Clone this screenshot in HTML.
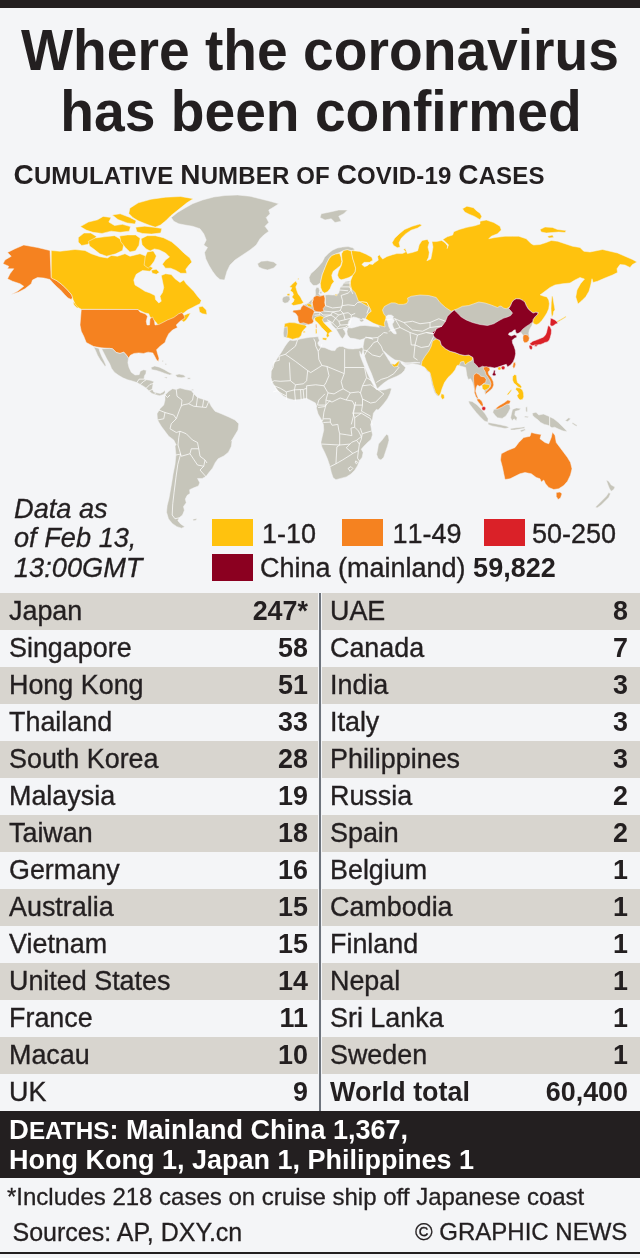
<!DOCTYPE html>
<html><head><meta charset="utf-8">
<style>
html,body{margin:0;padding:0;}
body{width:640px;height:1258px;background:#f4f5f7;position:relative;overflow:hidden;font-family:"Liberation Sans",Arial,Helvetica,sans-serif;color:#231f20;}
.abs{position:absolute;white-space:nowrap;}
#topbar{left:0;top:0;width:640px;height:7.5px;background:#231f20;}
.title{left:0;width:640px;text-align:center;font-weight:bold;font-size:55.2px;line-height:56px;transform:scaleY(1.05);transform-origin:0 46px;}
#sub{left:13.5px;top:159px;letter-spacing:0.15px;font-weight:bold;font-size:24px;line-height:32px;}
#sub b{font-size:28px;}
#map{left:0;top:185px;width:640px;height:350px;}
.date{left:14px;-webkit-text-stroke:0.3px #231f20;font-style:italic;font-size:27.2px;line-height:30px;}
.sw{width:41px;height:27px;}
.lg{font-size:27px;line-height:30px;font-kerning:none;-webkit-text-stroke:0.35px #231f20;}
.lg b{-webkit-text-stroke:0;}
.row{left:0;width:640px;height:37px;}
.row.g{background:linear-gradient(90deg,#d8d5cf 0,#d8d5cf 318.5px,transparent 318.5px,transparent 322.5px,#d8d5cf 322.5px);}
.c{position:absolute;top:0;-webkit-text-stroke:0.35px #231f20;font-size:26.9px;line-height:37px;white-space:nowrap;}
.n{font-weight:bold;text-align:right;-webkit-text-stroke:0;}
.c b{-webkit-text-stroke:0;}
#vdiv{left:319px;top:592.5px;width:2px;height:518.5px;background:#6e747d;}
#deaths{left:0;top:1111px;width:640px;height:66.5px;background:#231f20;color:#fff;font-weight:bold;}
#deaths div{position:absolute;left:9px;font-size:27px;line-height:30px;white-space:nowrap;}
#botline{left:0;top:1252px;width:640px;height:2px;background:#231f20;}
.ft{font-size:24px;line-height:28px;-webkit-text-stroke:0.3px #231f20;}
</style></head><body>
<div id="topbar" class="abs"></div>
<div class="abs title" style="top:23px">Where the coronavirus</div>
<div class="abs title" style="top:84px;left:1px">has been confirmed</div>
<div id="sub" class="abs"><b>C</b>UMULATIVE <b>N</b>UMBER OF <b>C</b>OVID-19 <b>C</b>ASES</div>
<svg id="map" class="abs" viewBox="0 185 640 350">
<g stroke="#f4f5f7" stroke-width="0.5" stroke-linejoin="round">
<path fill="#f58220" d="M50,250.5 37.5,247.5 23.75,245 15,248.75 7.5,252.5 11.25,256.25 5,260 3,263.75 8.75,266.25 7.5,268.75 13.75,268.75 10,273.75 7.5,278.75 12.5,281.25 20,283.75 23.75,286.25 17.5,291.25 11.25,294.5 18.75,292 25,288.75 31.25,283.75 32.5,280 37.5,277.5 43.75,278 50,279.5 53,283 57,287 60.5,290 64.5,294.5 68,298 71.25,299.5 72.5,297.5 71.75,295 67.5,290 62.5,285 57,280.75 51.25,277.5Z"/>
<path fill="#ffc20e" d="M73,302 75.5,303 79,307.5 77,308 74,305Z"/>
<path fill="#ffc20e" d="M51.25,250.5 60,251.25 75,249.5 85,250.5 91.25,253.75 100,256.75 107.5,258 111.25,255.5 117.5,256.25 125,253.75 130,256.25 140,253.75 146.25,256.25 150,260 147.5,265 153,268 150,271.25 142.5,270.5 136.25,274.25 133.75,280 135,285 140,288 145,291.25 150,293 155,295.5 155.5,299.5 158.75,303 161.25,301.25 160,296.25 162.5,292.5 163.75,287.5 162.5,281.25 161.25,275.5 165.5,273.75 171.25,274.5 175,278.75 180,282.5 183.75,280 186.25,283.75 190,287.5 193.75,291.25 197.5,296.25 201.25,300.5 200,303.75 196.25,305.5 192.5,307.5 187.5,310 183.75,313 180,315 183.75,315.5 187.5,313.75 190.5,313 188.75,316.25 186.25,320 183.75,322 181.25,320 179.5,317 175,319.5 171.25,322 167.5,323.75 162.5,325 158.75,326.25 156.25,322.5 153.75,320 150,317 148.75,313.75 145,313 141.25,311.25 137.5,309.5 81.25,309.25 78,307.5 75,303.75 73,299.5 71.75,295 67.5,290 62.5,285 57,280.75 51.25,278Z"/>
<path fill="#ffc20e" d="M198.75,307 202.5,306.25 206.25,310 207,314.5 202.5,313.75 199.5,312Z"/>
<path fill="#c6c5ba" d="M171.25,217.5 177.5,212.5 185,208 192.5,203.75 202.5,200 213.75,197 225,195.5 237.5,195 250,196.25 260,198.75 270,201.25 278.75,203.75 273.75,207 268.75,210 270,213.75 266.25,217.5 268.75,222.5 265,226.25 268.75,231.25 263.75,235 260,238.75 256.25,245 250,250 242.5,255 235,260 230,265 227,271.25 224.5,280 220,279.5 216.25,276.25 212.5,271.25 208.75,265 205.75,258.75 204.5,252.5 207.5,247.5 203.75,245 206.25,240 203.75,233.75 200,228.75 192.5,226.25 185,225 178.75,223.75 173.75,221.25Z"/>
<path fill="#c6c5ba" d="M257.5,263.75 261.25,261.25 267.5,260.75 273.75,262 277,264.5 273.75,268 267.5,270 262.5,268.75 258.75,267Z"/>
<path fill="#f58220" d="M81.25,309.5 138,309.5 140,312 145.5,314 147.5,316.25 146.25,321.25 147,325 149.5,325 150,318.75 152.5,317 154.5,321.25 155,325 158.75,324.5 163.75,322 167.5,320 173.75,317.5 178.75,313.75 182,312.5 183.75,315 185,318 180,321.25 176.25,325 177.5,327.5 172.5,330 168.75,333.75 166.25,338.75 165,342.5 160.32,345.94 156.57,349.69 157.5,353.44 159,358.13 158.44,361.5 156.57,360 154.69,356.25 152.82,352.88 148.13,352.13 143.44,353.44 138.75,352.88 134.07,353.44 130.32,355.31 128.44,358.13 126.56,355.31 123.75,352.13 120,353.44 116.25,352.5 112.5,348.75 109.69,348.38 101.25,347.81 93.75,346.5 86.25,342.5 83.75,336.25 81.25,331.25 80,325Z"/>
<path fill="#ffc20e" d="M129.85,208.14 138.29,202.86 150.97,199.27 165.76,197.16 180.55,196.52 193.23,198.63 186.88,202.86 181.6,207.09 176.33,211.31 171.04,215.53 165.76,220.82 160.48,225.04 155.19,227.15 148.86,225.04 143.58,222.93 138.29,220.82 133.02,217.65 128.79,213.42Z"/>
<path fill="#ffc20e" d="M135.66,227.27 144.76,226.13 153.86,227.27 161.82,228.4 160.69,232.96 151.58,234.09 142.49,233.41 136.8,231.82Z"/>
<path fill="#ffc20e" d="M80.4,226.62 88.36,222.07 97.47,219.8 103.15,216.38 111.12,217.52 108.83,222.07 114.52,225.49 122.49,224.34 130.45,226.62 129.32,231.17 120.21,232.31 111.12,231.17 102.01,233.45 92.92,232.31 86.09,230.03Z"/>
<path fill="#ffc20e" d="M112.26,214.95 120.22,213.82 129.33,217.23 136.15,220.64 135.02,224.06 127.05,222.92 117.95,219.5Z"/>
<path fill="#ffc20e" d="M78.29,237.57 83.98,233.01 90.8,233.01 96.49,236.43 93.07,240.98 87.39,244.39 81.7,245.53 78.29,242.12Z"/>
<path fill="#ffc20e" d="M88.4,241.36 95.23,237.95 104.33,236.82 114.56,235.67 120.25,239.09 123.67,244.77 122.53,250.46 115.71,253.87 106.6,256.15 99.78,253.87 94.09,249.33 89.54,245.91Z"/>
<path fill="#ffc20e" d="M119.63,236.04 127.59,234.9 135.56,234.9 140.1,238.32 138.97,245.14 135.56,250.83 129.87,251.97 125.32,247.42 120.77,241.73Z"/>
<path fill="#ffc20e" d="M141.09,238.75 147.19,235.7 155.31,235.7 163.44,237.74 171.56,241.8 177.66,246.88 183.75,252.97 189.85,258.05 191.88,262.11 188.83,265.16 185.78,269.22 186.8,273.28 180.7,273.28 175.63,270.24 170.55,268.2 165.47,268.2 162.42,264.14 165.47,260.08 169.53,257.03 165.47,252.97 159.38,249.92 154.3,248.91 150.24,250.94 146.17,248.91 142.11,244.84Z"/>
<path fill="#ffc20e" d="M147.19,251.95 153.28,250.94 156.33,256.02 154.3,261.09 151.25,265.16 148.2,268.2 144.14,265.16 145.16,257.03Z"/>
<path fill="#ffc20e" d="M151.25,270.24 156.33,269.22 159.38,272.27 156.33,274.3 152.27,273.28Z"/>
<path fill="#c6c5ba" d="M93.75,346.88 95.63,350.63 97.5,355.31 100.31,360 103.13,363.75 105,366.56 105.94,365.25 104.06,360.94 101.63,356.25 99.75,351.56 99,348.38Z"/>
<path fill="#c6c5ba" d="M101.63,348.75 104.06,353.44 106.88,359.06 109.69,363.75 111.56,368.44 114.38,372.19 118.13,375 122.81,377.82 127.5,379.69 132.19,381 136.88,382.5 140.25,384.38 143.44,386.25 146.25,388.13 149.07,390.94 151.88,393.38 155.63,394.69 159.38,395.63 163.13,394.69 165,392.82 165,390 163.13,391.88 160.32,393.38 156.57,392.82 153.75,391.88 152.25,389.07 152.82,385.32 153.75,381.57 150,380.25 146.25,379.69 144,379.13 144.38,375.94 145.88,373.5 146.25,370.32 143.44,369.75 140.25,371.25 139.13,374.63 135,375 131.25,372.19 129,367.5 127.88,362.81 128.44,358.13 126.56,355.31 123.75,352.13 120,353.44 116.25,352.5 112.5,348.75 109.69,348.38Z"/>
<path fill="#c6c5ba" d="M150.94,367.5 154.69,366 159.38,367.13 164.07,369.38 168.75,372.19 172.51,374.07 169.69,375 165,373.5 160.32,371.63 155.63,370.32 151.88,369.75Z"/>
<path fill="#c6c5ba" d="M175.32,375 179.07,374.07 183.76,375 185.63,376.88 181.88,377.82 177.19,377.25Z"/>
<path fill="#c6c5ba" d="M164.07,376.88 167.25,376.88 166.5,378.38Z"/>
<path fill="#c6c5ba" d="M187.51,377.82 190.32,377.82 190.32,379.13 187.51,379.13Z"/>
<path fill="#c6c5ba" d="M162,360.56 163.13,360.56 163.13,361.69 162,361.69Z"/>
<path fill="#c6c5ba" d="M165,363.38 166.13,363.38 166.5,364.88 165.38,364.88Z"/>
<path fill="#c6c5ba" d="M191.82,389.25 193.32,389.25 193.32,390.38 191.82,390.38Z"/>
<path fill="#c6c5ba" d="M165,395 168.75,391.25 172.5,388.75 176.25,389.5 180,388 185.5,389.5 191.25,390.5 193.75,393.75 197.5,397.5 203.75,399.5 208.75,401.25 211.25,406.25 215,411.25 221.25,413.75 228.75,417 235,420 238.75,423.75 238,430 235,435 231.25,441.25 232.19,440 231.26,446.56 228.44,452.19 223.76,455.94 218.13,458.75 215.32,462.5 212.51,468.13 208.75,472.81 205.94,476.56 202.19,478.44 197.5,478.44 199.75,482.75 198.44,485.94 193.75,487.82 189.63,489.69 190,493.44 187.19,495.32 185.32,499.07 186.25,502.82 183.44,506.57 184.38,510.32 182.5,515 179.13,517.82 177.82,520.63 180.63,524.01 184.75,526.63 181.57,528.13 176.88,526.63 172.19,523.44 168.44,518.75 166.56,512.19 167.13,505.63 169,498.13 170.32,490.63 171.63,483.13 173.13,473.75 175,464.38 175.94,455 175,445.63 176.25,445 173.75,440 168.75,436.25 165,431.25 161.25,426.25 157.5,420 157,413.75 160,408.75 163.75,405 165,400Z"/>
<path fill="#c6c5ba" d="M192.82,519.13 197.13,518.38 196,520.26 193.38,520.63Z"/>
<path fill="#c6c5ba" d="M290,340 293.12,340.62 296.88,340 300,339 305,338.12 310,337.25 315,336.88 318.12,336.5 318.5,338.12 319.38,340.62 317.75,343.12 318.75,345.62 321.25,347.25 325,347.75 328.75,349.38 331.88,350.62 335,350.62 336.5,348.12 339.38,346.5 342.75,346.5 345,347.75 348.75,348.75 353.12,349 355,348.75 358.75,348.5 361.88,347.5 363.25,348.75 362.5,351.88 361.5,355 360.38,353.12 359.75,351.25 360,355 361.88,360 364.38,366.25 366.88,371.88 369.38,377.5 371.88,382.5 374.38,386.88 376.25,389.38 380,390.25 385,389.75 390,388.12 391.5,388.75 390,393.75 387.5,398.75 383.75,403.75 380,408.12 378.12,410 376.26,409.38 373.44,413.13 372.51,418.75 370.63,424.38 371.57,430 372.51,434.69 371.01,439.38 367.82,442.19 364.07,445.94 361.25,449.13 363.13,452.5 362.19,457.19 359.38,460.94 357.5,465.63 354.69,470.32 350.94,474.07 346.25,476.88 340.63,478.38 335.94,479.69 333.13,477.82 331.25,472.19 329.75,465.63 327.5,459.07 324.69,452.5 321.88,446.88 320.94,442.19 322.25,436.56 323.75,430 323.38,424.38 320.94,418.75 318.13,414.06 316.25,407.5 317,407 315.5,403 311.25,400.75 306.25,398.25 300,399.5 293.75,400 288.75,398.75 283.75,396.25 279.5,392.5 275.5,387.5 272.5,382.5 271,377.5 271.25,371.25 273,365 277,358.75 281.25,352.5 285,346.25 287.5,342.75Z"/>
<path fill="#c6c5ba" d="M386.57,434.13 388.44,435.63 389.01,440.32 387.51,445.94 385.63,451.57 383.76,457.19 380.94,460 378.13,458.5 376.63,454.38 377.76,448.75 378.51,444.07 381.88,440.32 384.69,436.56Z"/>
<path fill="#c6c5ba" d="M283.75,337.66 283.28,332.97 284.06,327.5 284.84,323.59 289.53,322.5 295,322.81 299.69,324.06 298.12,320.47 297.81,316.56 295.78,313.44 292.66,311.88 293.44,310.31 297.34,310 300.47,309.53 301.25,307.19 303.59,304.84 306.72,303.75 309.06,302.19 310.94,300.16 313.44,298.59 314.53,296.56 315.62,294.69 315.31,290 316.56,287.34 318.75,287.66 319.69,290.78 318.75,293.91 320.78,295.47 324.69,295 328.59,294.69 332.5,295 336.41,294.69 338.75,293.12 339.53,290 340.31,286.88 342.66,285.31 343.44,282.97 345.78,281.41 349.69,280.94 352.03,279.84 357.5,279.84 370,286.88 371.25,311.25 368.12,313.75 366.25,316.88 365.62,318.75 362.75,318.5 361.25,319.75 359.38,318.75 356.25,317.5 353.12,316.88 350.62,318.75 348.75,321.25 348.12,323.75 348.75,326.5 347.5,327.5 345.62,328.12 343.12,329 344.75,331.25 345.62,333.75 344.38,336.25 342.5,338.75 340.62,336.88 338.75,333.75 336.88,330.62 335,328.12 332.5,325.62 330.62,322.5 330,321.25 323.91,322.81 320,317.34 314.53,318.12 312.19,323.59 308.28,324.38 305.16,325.16 306.72,326.72 304.38,329.06 302.03,332.19 301.25,335.31 298.91,337.66 295.78,339.22 297.5,338 292.5,339.25 288.75,338 285,337.5 283,336.25Z"/>
<path fill="#c6c5ba" d="M347.5,327.75 351.88,328 355.62,327 360,325.75 365,325.38 370,326.12 375,326.62 379.38,327.25 378.12,325 373.12,323.12 368.75,320.62 373.75,317.5 377.5,305 392.5,295 420,280 520,285 545,300 532.75,321.88 531.88,325.62 530.62,327.5 529.38,330 528.75,333.12 529.38,338.12 528.75,340.62 526.88,342.5 524.38,342.75 523.12,340.62 522.88,338.12 523.12,335.62 521.88,333.75 520.62,331.88 520,328.75 506.25,327.5 506.25,345 500,367.5 489.38,367.75 490,370 488.12,371.88 488.75,374.38 491.25,377.5 493.12,381.25 493.75,385 492.5,388.12 490,390.62 486.88,393.12 485,394.38 484.38,390.25 482.5,388.75 481.88,385.62 479.38,386.25 477.5,385 476.25,387.5 475.62,391.25 476.88,395 478.12,398.12 479.38,399 481.88,401.25 483.12,404.38 482.75,406.88 480.62,405 478.75,402.5 477.25,400.62 475.62,396.25 474.38,392.5 475,390 473.75,387.5 472.5,382.5 470.62,378.75 468.12,379.38 466.88,375.62 466.25,371.25 465.62,367.5 458.75,365.5 457,365.5 454.5,370 451.25,373.75 447.5,377.5 443.75,382.5 441.25,388.75 439.5,393.75 437.5,396.25 434.5,392.5 432,385 430.5,377.5 429.5,372.5 427,371.25 425,367.5 421.25,365.5 417.5,364.5 412.5,363.75 407.5,364.5 402.5,363.75 420,362.75 415,362.25 410,362.75 405,362.75 401.25,361.25 398.75,360.62 395,360 391.25,357.5 387.5,354.38 383.75,351 383.12,351.5 384.38,353.12 386.88,356.88 389,360.62 390,361.5 390.62,363.5 391.88,363.75 395,364.38 397.5,362.75 398.5,361.5 400,360.62 401.5,363.75 403.5,365.62 405.62,367.5 404.38,370.62 401.25,373.75 396.88,376.25 392.5,378.12 388.12,380 383.75,383.12 380,386.25 377.5,388.75 376.5,386.88 375,383.12 373.12,378.12 371.25,373.12 368.75,367.5 366.25,361.25 364.38,355.62 363.25,350 363.12,346.25 363.75,342.5 364.38,339.38 365.62,336.88 373.12,339.38 371.25,337.75 367.5,337.5 363.75,338.75 360,340 355,338.75 350,338.12 347.5,335 346.88,331.25 347.5,329Z"/>
<path fill="#c6c5ba" d="M312.19,284.53 309.84,281.41 309.06,277.5 310.94,273.59 314.53,270.47 318.44,266.56 322.34,261.88 324.69,257.19 328.59,253.28 332.5,250.16 337.19,248.12 342.66,247.03 348.12,246.56 352.81,247.81 355.16,249.69 351.25,250.62 347.34,249.69 343.44,250.62 339.53,252.5 335.62,254.06 331.72,255.62 329.06,258.75 327.03,262.66 325.47,266.56 323.91,270.47 322.34,274.38 321.25,279.06 320.31,282.97 316.88,285.31 313.75,285.62Z"/>
<path fill="#ffc20e" d="M320.31,283.44 321.25,279.06 322.34,274.38 323.91,270.47 325.47,266.56 327.03,262.66 329.06,258.75 331.72,255.62 335.62,254.06 339.53,253.28 341.09,257.19 341.88,261.56 340.62,265.47 336.88,268.44 333.28,271.25 331.72,275.16 332.5,279.06 334.06,281.41 331.72,284.53 330.16,288.44 327.81,291.56 324.69,293.12 322.34,291.56 320.78,287.66Z"/>
<path fill="#ffc20e" d="M343.44,250.62 347.34,249.69 351.25,250.94 352.03,254.84 352.81,258.75 354.38,263.44 355.62,268.12 355.16,272.03 352.81,275.16 348.91,277.5 344.22,279.06 341.09,279.84 338.75,278.28 337.5,275.16 338.44,271.25 340,268.12 341.25,265.78 342.34,261.56 341.72,257.19 341.56,253.75Z"/>
<path fill="#ffc20e" d="M295.78,280.94 293.44,282.97 291.09,285.31 289.53,286.88 291.88,287.66 290.31,290.78 292.66,292.34 293.44,294.69 291.88,297.03 294.22,299.38 293.44,301.72 291.09,304.06 293.44,305.62 297.34,304.84 301.25,304.06 303.59,302.5 302.03,300.16 300.47,297.03 298.12,293.91 296.88,290.78 295.78,286.88 297.34,283.75Z"/>
<path fill="#ffc20e" d="M286.88,293.91 289.53,293.44 290,295.47 287.5,295.94Z"/>
<path fill="#c6c5ba" d="M283.28,297.03 286.41,295.94 289.53,296.25 290,299.38 287.97,302.5 284.84,303.28 282.5,301.72 282.19,299.06Z"/>
<path fill="#ffc20e" d="M297.81,278.44 298.91,277.97 298.75,279.38 297.81,279.69Z"/>
<path fill="#c6c5ba" d="M319.69,291.88 321.56,291.56 321.88,293.44 320,293.75Z"/>
<path fill="#f58220" d="M313.75,297.03 316.88,295.47 320,296.25 323.91,295 325.47,298.59 324.69,302.5 325.47,305.62 323.12,308.75 323.91,311.09 320,312.19 316.09,311.56 313.75,310.31 312.97,306.41 311.88,302.5 312.5,299.38Z"/>
<path fill="#f58220" d="M303.59,304.84 306.72,306.41 309.84,307.97 312.97,309.53 314.53,311.88 312.97,315 312.19,318.12 313.75,321.25 312.19,323.59 308.28,324.38 303.59,322.81 299.69,323.59 298.12,320.47 297.81,316.56 295.78,313.44 292.66,311.88 293.44,310.31 297.34,310 300.47,309.53 301.25,307.19Z"/>
<path fill="#f58220" d="M315.62,324.38 316.56,324.06 316.88,327.81 315.94,328.28Z"/>
<path fill="#ffc20e" d="M315.47,329.06 316.72,328.75 317.03,333.44 315.78,333.75Z"/>
<path fill="#ffc20e" d="M306.25,304.06 309.84,303.75 312.19,305.62 311.41,307.19 308.28,306.41Z"/>
<path fill="#ffc20e" d="M284.84,323.59 289.53,322.5 295,322.81 299.69,324.06 305.16,325.16 306.72,326.72 304.38,329.06 302.03,332.19 301.25,335.31 298.91,337.66 295.78,339.22 297.5,338 292.5,339.25 288.75,338 285.5,337.5 286.88,336.88 287.5,332.19 287.19,326.72 284.06,327.5Z"/>
<path fill="#ffc20e" d="M314.53,318.12 316.88,316.56 320.78,315.78 323.91,317.34 322.34,319.69 323.91,322.81 327.03,325.94 330.16,329.06 332.5,331.41 330.16,332.19 328.59,333.75 329.38,336.09 327.03,337.66 326.25,335.31 327.03,332.97 324.69,330.62 321.56,327.5 319.22,324.38 316.88,322.03 315,320.47Z"/>
<path fill="#ffc20e" d="M322.34,337.66 327.03,338.12 326.25,340.31 322.81,339.69Z"/>
<path fill="#ffc20e" d="M303,331.5 305,331 305.25,332.5 303.25,332.75Z"/>
<path fill="#ffc20e" d="M355.16,249.69 353.56,250.75 359.69,251.41 366.25,254.26 371.72,257.32 372.82,260.16 369.53,262.35 364.06,262.35 361.88,264.54 364.5,266.73 367.35,265.63 369.53,263.88 372.82,264.54 375,262.35 378.28,260.16 377.63,256.44 379.38,254.69 381.13,257.32 382.66,259.07 387.04,256.44 392.5,254.69 396.88,253.6 402.35,253.6 405.63,252.07 403.44,249.22 405.19,248.57 407.38,253.6 412.19,252.5 417.66,250.75 419.19,244.85 422.04,240.47 427.51,239.38 429.26,242.66 427.95,247.04 429.26,252.5 428.6,257.32 426.85,260.82 430.79,259.07 431.88,253.6 432.98,247.04 431.88,241.57 436.26,241.57 441.73,240.47 445.01,242.66 447.64,245.94 447.2,248.57 448.51,244.85 442.82,239.38 447.2,236.75 452.67,235 453.76,231.72 459.23,229.53 466.89,227.35 474.54,225.81 480.01,224.06 480,221.25 486.25,220 493.75,222.5 500,226.25 501.25,230 497.5,233.75 491.25,236.25 488.75,238.75 495,237.5 505,236.25 512.5,236.25 518.75,236.25 526.25,238.75 531.25,243.75 533.75,245 540,244.5 546.25,242.5 551.25,240.5 557.5,241.25 565,243.75 572.5,246.25 580,247.5 583.75,251.25 590,252 597.5,250.5 602.5,249.5 610,251.25 617.5,253 625,256.25 632.5,259.5 637,262 632.5,264.5 630,267.5 625,265 620,264.5 617,268.75 617.5,272.5 612.5,275 605,278 597.5,281.25 593,282.5 592,278.75 590.75,285 589,291.25 585.75,296.75 582,300.5 578,304 575.75,297 577,290 580.5,283.75 584.5,279 580,277.5 575,280 570,283 562.5,283.75 555,285 550,287.5 545,291.25 540,295 540.62,295 543.12,296 546.88,296.88 548.75,300 549.38,303.75 548.75,308.75 546.88,313.12 544.38,316.88 541.88,320.62 538.75,323.75 536.25,324.75 533.75,323.75 532.75,321.88 533.12,319.38 535,316.88 537.5,314.38 538.12,312.5 535.62,312.25 533.12,313.12 530.62,311.25 528.12,308.75 526.25,305.62 525,302.5 523.12,300.62 520,299 516.25,298.75 513.75,300 511.88,302.5 510.62,305.62 508.75,307.5 506.25,308.75 503.75,308.12 501.25,306.25 500,306 497.5,307.5 491.25,305 485,303 478.75,302 473.75,303.75 468.75,305.5 462.5,306.25 457.5,308.75 454.25,310 451.25,311.25 445.5,307.5 440,302.5 436.25,297.5 428.75,295.5 420,295 411.25,296.25 407.5,298.12 408.12,301 406.5,303.5 403.12,304.38 398.75,304.38 395,302.88 391.25,302.88 387.5,304.75 384.38,306.5 382.5,310 383.75,313.75 386.25,316.88 385.62,319.38 384.38,323.12 385,326.88 382.5,326.25 378.12,325 373.12,323.12 368.75,320.62 365.62,318.75 366.25,316.88 368.12,313.75 371.25,311.25 370,308.12 366.25,305.62 361.88,303.12 358.12,300.62 356.88,296.88 355,292.5 351.88,289.38 350,285 350,280 351.25,290 349.69,286.88 349.69,282.97 351.25,279.06 352.81,275.16 355.16,272.03 355.62,268.12 354.38,263.44 352.81,258.75 352.03,254.84 351.25,250.94Z"/>
<path fill="#ffc20e" d="M392.07,242.66 394.69,238.28 399.07,233.91 404.54,229.53 412.19,226.25 419.85,224.06 422.04,225.16 417.66,228 411.1,230.19 405.63,233.91 401.26,238.28 399.07,242.66 400.16,247.04 397.32,247.69 393.6,245.5Z"/>
<path fill="#ffc20e" d="M462.51,208.75 466.89,206.13 473.45,207.66 476.73,210.94 480.01,213.13 481.76,216.41 480.01,219.69 474.54,216.41 469.07,214.22 464.7,212.03Z"/>
<path fill="#ffc20e" d="M540,229.5 545,227 552.5,227.5 557.5,229.5 566.25,230.5 565,232.5 558.75,232 552.5,232.5 546.25,233 541.25,232Z"/>
<path fill="#ffc20e" d="M547.5,236.25 552.5,235 553.75,237.5 548.75,238Z"/>
<path fill="#ffc20e" d="M551.88,296 552.75,296.25 553.5,301.25 554.38,306.25 555,310 553.75,311.25 553.12,315 551.88,316.88 551.25,313.75 551,308.75 551.25,302.5Z"/>
<path fill="#ffc20e" d="M556.88,321.25 561.25,319 565.62,316.25 566.25,316.88 561.88,319.75 557.5,322.25Z"/>
<path fill="#ffc20e" d="M335,294.25 337.25,294.5 337,295.75 335,295.5Z"/>
<path fill="#c6c5ba" d="M321.25,213.75 330,212 338.75,210 347.5,210 343.75,213.75 338.75,216.25 341.25,221.25 335,222.5 331.25,218.75 325,220 320,217.5Z"/>
<path fill="#ffc20e" d="M432.5,341.25 436.25,338.75 440,340.5 441.25,345 445.5,348.75 450,351.25 455,352.5 460,354.5 465,355.5 468.75,355 473,357.5 472,360.5 468,362.5 465,365 463.75,361.25 460.5,362 459.5,365 457,365.5 455,370 452,373.75 448,377.5 444.5,382.5 442,388.75 440.5,393.75 438.75,396.25 435.5,392.5 433,385 431.25,377.5 430,372.5 427.5,370.5 425,367.5 421.25,365.5 422,361.25 425,356.25 428.75,351.25 431.25,346.25Z"/>
<path fill="#ffc20e" d="M441.25,393.75 444,394.5 444.5,398 442.5,399.5 440.75,397Z"/>
<path fill="#8a0021" d="M432.5,332.5 436.25,328.75 442,326.25 445.5,321.25 447.5,316.25 451.25,312.5 454.25,310 457.5,313 461.25,317 466.25,320 472.5,322.5 480,324.5 487.5,325.5 493.75,323.75 500,320 503.75,318.12 507.5,316.88 510.62,315.62 512.5,313.12 510.62,310.62 508.75,308.75 510.62,305.62 511.88,302.5 513.75,300 516.25,298.75 520,299 523.12,300.62 525,302.5 526.25,305.62 528.12,308.75 530.62,311.25 533.12,313.12 535.62,312.25 538.12,312.5 537.5,314.38 535,316.88 533.12,319.38 532.75,321.88 529.38,324.38 525.62,326.88 522.5,329.38 520.62,331.88 518.75,333.12 516.88,333.75 515.62,331.88 515.25,329.75 513.75,330.25 511.88,331.88 509,333.12 508.5,334.75 511.25,336 514.38,334.75 516.5,335.62 516.88,337.25 514,338.5 512.25,340.25 512.5,343.12 514,346.25 515.25,350 515.62,353.75 514.75,358.12 513.12,361.88 510.62,365 507.5,366.88 506.25,364.25 502.5,365.5 497.5,367.25 494.5,368 490,367 486.25,367.5 482.5,366.25 478.75,368 476.25,365 473.75,362.5 473,357.5 468.75,355 465,355.5 460,354.5 455,352.5 450,351.25 445.5,348.75 441.25,345 440,340.5 436.25,338.75 433.75,336.25Z"/>
<path fill="#8a0021" d="M494,370 495.25,370.62 495,373.12 496,374.38 495.25,375.75 493.12,375.75 492.25,374.38 493.12,373.12Z"/>
<path fill="#f58220" d="M473.75,375 476.25,373.12 479.38,374.38 480.62,376.25 484.38,376.88 486.25,379.38 485.62,382.5 483.12,383.75 481.25,385.62 479.38,386.25 477.5,385 476.25,387.5 475.62,391.25 476.88,395 478.12,398.12 477.5,399 475.62,396.25 474.38,392.5 474.38,388.12 473.75,382.5 473.5,378.12Z"/>
<path fill="#f58220" d="M483.12,367.5 486.25,366.5 489.38,367.75 490,370 488.12,371.88 488.75,374.38 491.25,377.5 493.12,381.25 493.75,385 492.5,388.12 490,390.62 486.88,393.12 485,394.38 485.62,391.88 488.12,389.38 490.25,386.88 491,383.75 490,380.62 488.12,377.5 486,374.38 485,371.25 483.75,369.38Z"/>
<path fill="#ffc20e" d="M481.88,385 484.38,384 487.75,384.38 490,385 489.38,387.5 486.88,389.38 484.38,390.25 482.5,388.75Z"/>
<path fill="#f58220" d="M476.88,398.75 479.38,399 481.88,401.25 483.12,404.38 482.75,406.88 480.62,405 478.75,402.5 477.25,400.62Z"/>
<path fill="#ffc20e" d="M512.75,376.25 514.75,374.38 516.5,375.62 516.88,380 517.5,382.5 520,384.38 521.88,386.88 520.62,388.12 518.12,386.88 516.25,385 513.75,383.12 512.5,380Z"/>
<path fill="#ffc20e" d="M516.25,387.5 520,388.12 522.5,390 523.5,393.12 523.75,396.88 522.5,399.38 520,400 518.12,398.12 516.88,395.62 518.75,393.75 517.5,391.25 515.62,389.38Z"/>
<path fill="#ffc20e" d="M506.88,394.38 510.62,390 511.88,389.38 511.25,391 508.12,395Z"/>
<path fill="#c6c5ba" d="M468.44,400.94 472.19,401.5 476.88,404.69 481.56,409.38 485.31,414.06 488.13,418.75 487.75,422.13 484.38,421 480.25,416.88 475.94,412.19 472.19,407.5 469.38,403.75Z"/>
<path fill="#c6c5ba" d="M488.13,422.5 493.75,423.44 500.32,424.75 506.88,426.25 509.13,427.75 505,428.5 498.44,427.19 491.88,425.88 488.13,424.38Z"/>
<path fill="#c6c5ba" d="M510.63,428.5 516.25,427.75 521.88,427.19 524.69,426.63 524.69,428.13 520,429.07 514.38,430 510.63,430Z"/>
<path fill="#c6c5ba" d="M520,430.38 524.69,428.88 525.63,430 521.5,431.88Z"/>
<path fill="#c6c5ba" d="M493.75,409.38 497.5,408.44 502.19,406.56 506.88,403.75 509.69,404.69 510.25,408.44 508.38,412.19 505.94,415.94 502.19,418.38 497.5,417.81 494.69,415 492.81,412.19Z"/>
<path fill="#f58220" d="M495.25,408.81 499,405.63 504.07,402.81 507.82,400 510.63,400.94 509.5,403.75 506.88,404.13 502.19,406.94 497.88,409Z"/>
<path fill="#c6c5ba" d="M512.5,409.38 516.25,407.88 520.94,408.44 519.07,410.31 515.32,411.25 514.75,415 517.19,417.81 516.25,420.63 514,418.75 512.13,420.63 510.63,417.81 511.57,413.13Z"/>
<path fill="#c6c5ba" d="M525.63,407.5 527.13,406.56 527.5,411.25 526,412.19Z"/>
<path fill="#c6c5ba" d="M524.69,415.94 528.44,416.5 527.88,417.81 524.69,417.25Z"/>
<path fill="#c6c5ba" d="M532.19,413.13 535.94,412.19 538.75,415 543.44,414.06 548.13,415.94 553.76,418.75 558.44,422.5 562.19,426.25 565.94,430 567.26,431.5 563.13,430.94 558.44,429.07 554.69,427.19 551.88,427.75 548.13,425.32 544.38,424.38 540.63,422.5 537.82,419.69 535,417.81 532.75,415.38Z"/>
<path fill="#c6c5ba" d="M565.01,420.63 568.76,417.81 570.63,418.75 567.82,421.56Z"/>
<path fill="#c6c5ba" d="M572.51,422.5 577.19,425.32 576.26,426.25 572.13,423.63Z"/>
<path fill="#f58220" d="M523.12,335.62 525,334.38 528.12,335.25 529.38,338.12 528.75,340.62 526.88,342.5 524.38,342.75 523.12,340.62 522.88,338.12Z"/>
<path fill="#f58220" d="M513.5,362.5 515.25,362.25 515.62,364.38 514.75,367.5 513.5,368.5 512.75,366.25Z"/>
<path fill="#da2128" d="M550.62,318.12 552.5,318.75 555,320 557.25,321.88 557.75,323.5 555.62,324 553.75,325.62 551.88,326.25 550,325 550.25,321.88Z"/>
<path fill="#da2128" d="M548.12,325.62 550,326.5 551.5,330 551.25,333.75 550.25,337.5 549.38,340 547.5,341.88 545,342.5 543.12,343.5 540.62,344.38 538.12,344.75 536.25,346 534.38,345.25 532.75,345.75 530.62,345 529.75,343.75 531,342.5 532.75,341.25 535,340.38 537.5,339.62 540,338.5 543.12,337.25 545.25,335.25 546.5,332.5 547.25,329Z"/>
<path fill="#da2128" d="M529.38,345 531.88,345.62 532.5,348.12 531.25,350 529.75,348.75 529,346.88Z"/>
<path fill="#da2128" d="M534.38,345 537.5,345 536.88,346.5 534.75,346.5Z"/>
<path fill="#f58220" d="M501.25,453.75 507.5,450.5 515,447.5 518.75,442.5 523.75,437.5 530,436.25 531.25,432.5 536.25,433.75 541.25,434.5 540,438.75 545,442.5 548.75,443.75 551.25,437.5 552.5,432 555,435.5 556.25,442.5 560,447.5 563.75,452.5 567.5,457.5 570.5,462.5 572,468.75 570.5,475 567.5,481.25 563.75,485.5 558.75,488.75 553.75,489.5 548.75,487.5 545.5,483.75 543.75,480 541.25,482 540,478.75 536.25,477.5 531.25,473.75 525,472.5 520,473.75 515,476.25 510,478.75 505,479.5 503.75,473.75 502.5,467.5 500.5,460Z"/>
<path fill="#f58220" d="M556.25,492.5 560,492 562,493.75 560.5,498 558,499.5 556.25,496.25Z"/>
<path fill="#c6c5ba" d="M606.25,480 608.75,481.25 611.25,485 615,487 613.75,489.5 611.25,491.25 609.5,488.75 608,485Z"/>
<path fill="#c6c5ba" d="M608.75,492.5 606.25,496.25 602.5,500 598.75,503.75 595.5,507 597,508 601.25,505 605,501.25 608.75,497.5 610.5,493.75Z"/>
<path fill="#f4f5f7" d="M386,316.5 388.12,315 391.25,315 393.5,316.5 392.5,319 394.38,320.25 393.5,322.5 392.25,324 393.12,326.88 394.38,329.38 396,331.88 396.25,334 394,333.75 391.88,331.88 390.25,329.38 388.75,326.5 388.12,323.75 387.25,321.25 386.25,318.75Z"/>
<path fill="#ffc20e" d="M391.88,363.75 395,364.38 397.5,361.88 399.38,360.62 398.75,363.75 397.5,366.25 394.38,366.88 392.5,365.62Z"/>
<path fill="#da2128" d="M505,367.8 504.75,368.75 504.05,369.45 503.1,369.7 502.15,369.45 501.45,368.75 501.2,367.8 501.45,366.85 502.15,366.15 503.1,365.9 504.05,366.15 504.75,366.85Z"/>
<path fill="#ffc20e" d="M501,368.5 500.79,369.3 500.2,369.89 499.4,370.1 498.6,369.89 498.01,369.3 497.8,368.5 498.01,367.7 498.6,367.11 499.4,366.9 500.2,367.11 500.79,367.7Z"/>
<path fill="#da2128" d="M485.65,408.5 485.4,409.45 484.7,410.15 483.75,410.4 482.8,410.15 482.1,409.45 481.85,408.5 482.1,407.55 482.8,406.85 483.75,406.6 484.7,406.85 485.4,407.55Z"/>
<path fill="#c6c5ba" d="M359.38,318.75 361.25,319.75 362.75,319 364,320.62 361.88,322 360,321.25Z"/>
<path fill="none" stroke="#ffffff" stroke-width="0.75" d="M549.63,416.5 549.63,426.63"/>
<path fill="none" stroke="#ffffff" stroke-width="0.75" d="M297.5,340.08 295.47,346.17 290.39,350.23 285.31,354.3 279.22,356.33 279.22,360.39 274.14,361.41 273.13,367.5 271.09,370.55"/>
<path fill="none" stroke="#ffffff" stroke-width="0.75" d="M285.31,354.3 295.47,361.41 307.66,370.55 310.7,372.58 318.83,367.5 321.88,365.47 318.83,359.38 318.22,351.25 315.78,346.17 315.38,342.11 313.75,338.66"/>
<path fill="none" stroke="#ffffff" stroke-width="0.75" d="M318.22,351.25 320.86,347.19 321.88,344.14"/>
<path fill="none" stroke="#ffffff" stroke-width="0.75" d="M344.63,349.22 344.63,367.5 344.22,373.59 326.95,366.48 321.88,365.47"/>
<path fill="none" stroke="#ffffff" stroke-width="0.75" d="M344.63,367.5 364.53,367.5"/>
<path fill="none" stroke="#ffffff" stroke-width="0.75" d="M289.38,362.42 290.39,380.7 280.23,381.31 274.14,380.7"/>
<path fill="none" stroke="#ffffff" stroke-width="0.75" d="M307.66,370.55 306.64,380.7 303.59,383.75 295.47,384.77 290.39,380.7"/>
<path fill="none" stroke="#ffffff" stroke-width="0.75" d="M326.95,366.48 328.99,375.63 325.94,382.74 323.91,385.78 315.78,384.77 306.64,385.78 306.64,398.99"/>
<path fill="none" stroke="#ffffff" stroke-width="0.75" d="M344.22,373.59 341.17,381.72 343.2,388.83 339.14,390.86 334.06,393.91 327.97,392.89 323.91,385.78"/>
<path fill="none" stroke="#ffffff" stroke-width="0.75" d="M364.53,367.5 366.56,377.66 362.5,385.78 360.47,392.89 358.44,391.88 350.31,392.89 343.2,388.83"/>
<path fill="none" stroke="#ffffff" stroke-width="0.75" d="M362.5,385.78 370.63,384.77 375.7,388.22 383.83,393.91 375.7,402.03 370.63,403.05 362.5,398.99 360.47,392.89"/>
<path fill="none" stroke="#ffffff" stroke-width="0.75" d="M366.56,377.66 371.64,380.7 375.7,385.78"/>
<path fill="none" stroke="#ffffff" stroke-width="0.75" d="M286.33,391.88 286.33,400"/>
<path fill="none" stroke="#ffffff" stroke-width="0.75" d="M294.45,389.84 295.47,401.02"/>
<path fill="none" stroke="#ffffff" stroke-width="0.75" d="M300.55,389.84 301.16,400"/>
<path fill="none" stroke="#ffffff" stroke-width="0.75" d="M303.19,389.84 304,399.59"/>
<path fill="none" stroke="#ffffff" stroke-width="0.75" d="M295.47,384.77 294.45,389.84 286.33,391.88 280.23,388.22 274.14,385.78"/>
<path fill="none" stroke="#ffffff" stroke-width="0.75" d="M294.45,389.84 303.59,389.44 306.64,388.22"/>
<path fill="none" stroke="#ffffff" stroke-width="0.75" d="M324.92,393.91 318.83,400 317.41,405.08 325.94,405.08 325.94,400 327.97,392.89"/>
<path fill="none" stroke="#ffffff" stroke-width="0.75" d="M325.94,400 332.03,402.03 340.16,397.97 346.25,400 350.31,392.89"/>
<path fill="none" stroke="#ffffff" stroke-width="0.75" d="M325.94,405.08 323.91,412.19 322.89,420.31 319.84,421.33"/>
<path fill="none" stroke="#ffffff" stroke-width="0.75" d="M354.38,405.08 362.5,405.08 362.5,398.99"/>
<path fill="none" stroke="#ffffff" stroke-width="0.75" d="M354.38,405.08 353.36,416.25 351.33,424.38"/>
<path fill="none" stroke="#ffffff" stroke-width="0.75" d="M362.5,405.08 361.49,411.17 370.63,416.25"/>
<path fill="none" stroke="#ffffff" stroke-width="0.75" d="M346.25,400 352.35,401.02 354.38,405.08"/>
<path fill="none" stroke="#ffffff" stroke-width="0.75" d="M274.14,380.7 271.09,382.74"/>
<path fill="none" stroke="#ffffff" stroke-width="0.75" d="M274.14,385.78 277.19,390.86 282.27,393.91 286.33,395.94"/>
<path fill="none" stroke="#ffffff" stroke-width="0.75" d="M277.19,390.86 273.13,391.88"/>
<path fill="none" stroke="#ffffff" stroke-width="0.75" d="M323.38,422.5 330.32,422.13 332.19,425.31 337.82,424.38 338.75,430 339.69,433.75 339.69,445 321.88,444.07"/>
<path fill="none" stroke="#ffffff" stroke-width="0.75" d="M339.69,445 336.88,446.88 335.94,463.75 330.32,466.57"/>
<path fill="none" stroke="#ffffff" stroke-width="0.75" d="M339.69,445 350,444.07 346.25,447.82 352.82,453.44 350,455.32 342.5,460 335.94,463.75"/>
<path fill="none" stroke="#ffffff" stroke-width="0.75" d="M352.82,453.44 358.44,450.63 359.38,444.07 356.57,440.32 351.88,442.19 350,444.07"/>
<path fill="none" stroke="#ffffff" stroke-width="0.75" d="M339.69,433.75 346.25,434.69 351.88,435.63 350.94,428.13 354.69,427.19 358.44,430.94 361.25,436.56 356.57,440.32"/>
<path fill="none" stroke="#ffffff" stroke-width="0.75" d="M354.69,427.19 354.69,417.81 361.25,413.13 370.63,418.75 372.51,425.31"/>
<path fill="none" stroke="#ffffff" stroke-width="0.75" d="M362.19,433.75 371.57,430.94"/>
<path fill="none" stroke="#ffffff" stroke-width="0.75" d="M360.32,428.13 362.19,433.75 361.25,439.38 359.38,444.07"/>
<path fill="none" stroke="#ffffff" stroke-width="0.75" d="M358.44,450.63 357.5,458.13 359.38,460.94"/>
<path fill="none" stroke="#ffffff" stroke-width="0.75" d="M348.13,468.44 350.94,466.57 352.82,468.44 350,471.25 348.13,468.44"/>
<path fill="none" stroke="#ffffff" stroke-width="0.75" d="M355.63,460.94 357.5,461.88 356.57,463.75 355.25,462.82 355.63,460.94"/>
<path fill="none" stroke="#ffffff" stroke-width="0.75" d="M354.69,417.81 352.82,413.13 354.69,407.5 355.63,401.88"/>
<path fill="none" stroke="#ffffff" stroke-width="0.75" d="M323.38,418.75 330.32,418.75 330.32,422.13"/>
<path fill="none" stroke="#ffffff" stroke-width="0.75" d="M318.13,407.5 324.69,406.56 330.32,400"/>
<path fill="none" stroke="#ffffff" stroke-width="0.75" d="M352.82,413.13 361.25,413.13"/>
<path fill="none" stroke="#ffffff" stroke-width="0.75" d="M176.25,389.5 177,396.25 182,400 181.25,406.25 180,408.75"/>
<path fill="none" stroke="#ffffff" stroke-width="0.75" d="M193.75,393.75 192.5,400 188.75,403.75 182.5,405 181.25,406.25"/>
<path fill="none" stroke="#ffffff" stroke-width="0.75" d="M197.5,397.5 196.25,406.25"/>
<path fill="none" stroke="#ffffff" stroke-width="0.75" d="M203.75,399.5 202.5,407"/>
<path fill="none" stroke="#ffffff" stroke-width="0.75" d="M208.75,401.25 206.25,407.5"/>
<path fill="none" stroke="#ffffff" stroke-width="0.75" d="M188.75,403.75 193.75,406.25 206.25,407.5"/>
<path fill="none" stroke="#ffffff" stroke-width="0.75" d="M158.75,410 165,412.5 173.75,415 176.25,418.75 180,408.75"/>
<path fill="none" stroke="#ffffff" stroke-width="0.75" d="M157.5,420 163.75,418.75 165,412.5"/>
<path fill="none" stroke="#ffffff" stroke-width="0.75" d="M176.25,418.75 171.25,423.75 170,428.75 176.25,432.5 180,431.25 178.75,437.5 178,445"/>
<path fill="none" stroke="#ffffff" stroke-width="0.75" d="M180,431.25 186.25,433.75 192.5,440 197.5,442.5 198.75,448.75 191.25,448.75 190,453.75 181.25,456.25 178,445"/>
<path fill="none" stroke="#ffffff" stroke-width="0.75" d="M198.75,448.75 200,456.25 205,460 203.75,466.25 197.5,465 190,453.75"/>
<path fill="none" stroke="#ffffff" stroke-width="0.75" d="M205,460 207,463"/>
<path fill="none" stroke="#ffffff" stroke-width="0.75" d="M203.75,466.25 200,470 206.25,477"/>
<path fill="none" stroke="#ffffff" stroke-width="0.75" d="M165,395 167.5,397.5 170,395"/>
<path fill="none" stroke="#ffffff" stroke-width="0.75" d="M175.94,455 180.63,454.06 177.82,464.38 175.94,477.5 174.07,492.5 172.75,503.75 172.19,515 175,518.75 179.13,517.82"/>
<path fill="none" stroke="#ffffff" stroke-width="0.75" d="M313.44,298.59 312.19,302.5 311.88,305.62"/>
<path fill="none" stroke="#ffffff" stroke-width="0.75" d="M325,295 325.47,305.62 332.5,307.97 340.31,307.19 342.19,305.62 342.66,300.94 341.09,295.47"/>
<path fill="none" stroke="#ffffff" stroke-width="0.75" d="M339.53,290 348.12,290.78"/>
<path fill="none" stroke="#ffffff" stroke-width="0.75" d="M340.31,286.88 349.69,286.88"/>
<path fill="none" stroke="#ffffff" stroke-width="0.75" d="M343.44,282.97 350.47,282.97"/>
<path fill="none" stroke="#ffffff" stroke-width="0.75" d="M342.19,305.62 348.12,304.84 354.38,305.62 357.5,302.5 362.19,301.72 366.88,302.5 369.22,307.19 366.88,313.44"/>
<path fill="none" stroke="#ffffff" stroke-width="0.75" d="M349.69,286.88 352.81,293.91"/>
<path fill="none" stroke="#ffffff" stroke-width="0.75" d="M341.09,295.47 348.12,293.12 351.25,290"/>
<path fill="none" stroke="#ffffff" stroke-width="0.75" d="M342.19,305.62 340.31,310.31 343.44,313.44 348.12,312.66 351.25,315 355.16,313.44"/>
<path fill="none" stroke="#ffffff" stroke-width="0.75" d="M323.91,311.09 332.5,311.88 338.75,311.09 340.31,310.31"/>
<path fill="none" stroke="#ffffff" stroke-width="0.75" d="M320,312.19 323.12,315 330.94,315 332.5,311.88 338.75,315 343.44,313.44"/>
<path fill="none" stroke="#ffffff" stroke-width="0.75" d="M330.94,315 335.62,318.12 338.75,315"/>
<path fill="none" stroke="#ffffff" stroke-width="0.75" d="M343.44,313.44 345,319.69 338.75,321.25 335.62,318.12"/>
<path fill="none" stroke="#ffffff" stroke-width="0.75" d="M345,319.69 351.25,318.12 351.25,315"/>
<path fill="none" stroke="#ffffff" stroke-width="0.75" d="M338.75,321.25 340.31,325.16 349.69,324.38 351.25,318.12"/>
<path fill="none" stroke="#ffffff" stroke-width="0.75" d="M323.91,317.34 330.94,315"/>
<path fill="none" stroke="#ffffff" stroke-width="0.75" d="M327.03,319.69 332.5,322.81 335.62,318.12"/>
<path fill="none" stroke="#ffffff" stroke-width="0.75" d="M332.5,322.81 337.19,327.5 340.31,325.16"/>
<path fill="none" stroke="#ffffff" stroke-width="0.75" d="M335.62,329.06 345,327.5 349.69,324.38"/>
<path fill="none" stroke="#ffffff" stroke-width="0.75" d="M313.75,312.66 320,312.19 319.69,314.69 314.53,315.31"/>
<path fill="none" stroke="#ffffff" stroke-width="0.75" d="M385,320 395,318.75 403.75,322.5 412.5,321.25 420,323.75 430,322.5 438.75,318.75 445.5,321.25"/>
<path fill="none" stroke="#ffffff" stroke-width="0.75" d="M395,318.75 400,327.5 410,332.5 417.5,335"/>
<path fill="none" stroke="#ffffff" stroke-width="0.75" d="M403.75,322.5 412.5,330 422.5,331.25 430,327.5 430,322.5"/>
<path fill="none" stroke="#ffffff" stroke-width="0.75" d="M417.5,335 426.25,332.5 433.75,333.75"/>
<path fill="none" stroke="#ffffff" stroke-width="0.75" d="M417.5,335 415,345 421.25,347.5 428.75,346.25 433.75,336.25"/>
<path fill="none" stroke="#ffffff" stroke-width="0.75" d="M410,332.5 411.25,345 415,345 413.75,357.5 417.5,360"/>
<path fill="none" stroke="#ffffff" stroke-width="0.75" d="M388.75,331.25 400,327.5"/>
<path fill="none" stroke="#ffffff" stroke-width="0.75" d="M430,327.5 440,326.25 442,326.25"/>
<path fill="none" stroke="#ffffff" stroke-width="0.75" d="M426.25,332.5 433.75,333.75 436.25,328.75"/>
<path fill="none" stroke="#ffffff" stroke-width="0.75" d="M376.25,382.5 381.25,379.38 387.5,377.5 393.75,373.75 398.75,367.5 397.5,366.25"/>
<path fill="none" stroke="#ffffff" stroke-width="0.75" d="M366.88,350.62 372.5,355 380,356.88 383.12,353.12"/>
<path fill="none" stroke="#ffffff" stroke-width="0.75" d="M383.12,351.25 381.25,346.25 377.5,341.25 378.12,337.5"/>
<path fill="none" stroke="#ffffff" stroke-width="0.75" d="M366.88,350.62 370,347.5 373.75,342.5 377.5,341.25"/>
<path fill="none" stroke="#ffffff" stroke-width="0.75" d="M365.62,337.5 371.25,338.12 377.5,337.5"/>
<path fill="none" stroke="#ffffff" stroke-width="0.75" d="M363.25,350 366.88,350.62 364.38,355.62"/>
<path fill="none" stroke="#ffffff" stroke-width="0.75" d="M377.5,337.5 381.25,335 383.75,332.5 387.5,333.12"/>
<path fill="none" stroke="#ffffff" stroke-width="0.75" d="M136.88,382.5 139.13,379.13 144,379.13"/>
<path fill="none" stroke="#ffffff" stroke-width="0.75" d="M140.25,384.38 143.44,381.57 146.25,379.69"/>
<path fill="none" stroke="#ffffff" stroke-width="0.75" d="M146.25,388.13 150,384.38 153.75,383.44"/>
<path fill="none" stroke="#ffffff" stroke-width="0.75" d="M149.07,390.94 152.82,389.07"/>
<path fill="none" stroke="#ffffff" stroke-width="0.75" d="M154.69,394.32 155.63,392.82"/>
</g>
</svg>
<div class="abs date" style="top:494px">Data as</div>
<div class="abs date" style="top:523px">of Feb 13,</div>
<div class="abs date" style="top:553px">13:00GMT</div>
<div class="abs sw" style="left:212px;top:519px;background:#ffc20e"></div>
<div class="abs lg" style="left:262px;top:519px">1-10</div>
<div class="abs sw" style="left:342px;top:519px;background:#f58220"></div>
<div class="abs lg" style="left:392.5px;top:519px">11-49</div>
<div class="abs sw" style="left:483.5px;top:519px;background:#da2128"></div>
<div class="abs lg" style="left:532px;top:519px">50-250</div>
<div class="abs sw" style="left:212px;top:554px;background:#8b0020"></div>
<div class="abs lg" style="left:260px;top:553px">China (mainland) <b>59,822</b></div>
<div id="table">
<div class="abs row g" style="top:593px"><span class="c" style="left:9px">Japan</span><span class="c n" style="right:332px">247*</span><span class="c" style="left:330px">UAE</span><span class="c n" style="right:12px">8</span></div>
<div class="abs row" style="top:630px"><span class="c" style="left:9px">Singapore</span><span class="c n" style="right:332px">58</span><span class="c" style="left:330px">Canada</span><span class="c n" style="right:12px">7</span></div>
<div class="abs row g" style="top:667px"><span class="c" style="left:9px">Hong Kong</span><span class="c n" style="right:332px">51</span><span class="c" style="left:330px">India</span><span class="c n" style="right:12px">3</span></div>
<div class="abs row" style="top:704px"><span class="c" style="left:9px">Thailand</span><span class="c n" style="right:332px">33</span><span class="c" style="left:330px">Italy</span><span class="c n" style="right:12px">3</span></div>
<div class="abs row g" style="top:741px"><span class="c" style="left:9px">South Korea</span><span class="c n" style="right:332px">28</span><span class="c" style="left:330px">Philippines</span><span class="c n" style="right:12px">3</span></div>
<div class="abs row" style="top:778px"><span class="c" style="left:9px">Malaysia</span><span class="c n" style="right:332px">19</span><span class="c" style="left:330px">Russia</span><span class="c n" style="right:12px">2</span></div>
<div class="abs row g" style="top:815px"><span class="c" style="left:9px">Taiwan</span><span class="c n" style="right:332px">18</span><span class="c" style="left:330px">Spain</span><span class="c n" style="right:12px">2</span></div>
<div class="abs row" style="top:852px"><span class="c" style="left:9px">Germany</span><span class="c n" style="right:332px">16</span><span class="c" style="left:330px">Belgium</span><span class="c n" style="right:12px">1</span></div>
<div class="abs row g" style="top:889px"><span class="c" style="left:9px">Australia</span><span class="c n" style="right:332px">15</span><span class="c" style="left:330px">Cambodia</span><span class="c n" style="right:12px">1</span></div>
<div class="abs row" style="top:926px"><span class="c" style="left:9px">Vietnam</span><span class="c n" style="right:332px">15</span><span class="c" style="left:330px">Finland</span><span class="c n" style="right:12px">1</span></div>
<div class="abs row g" style="top:963px"><span class="c" style="left:9px">United States</span><span class="c n" style="right:332px">14</span><span class="c" style="left:330px">Nepal</span><span class="c n" style="right:12px">1</span></div>
<div class="abs row" style="top:1000px"><span class="c" style="left:9px">France</span><span class="c n" style="right:332px">11</span><span class="c" style="left:330px">Sri Lanka</span><span class="c n" style="right:12px">1</span></div>
<div class="abs row g" style="top:1037px"><span class="c" style="left:9px">Macau</span><span class="c n" style="right:332px">10</span><span class="c" style="left:330px">Sweden</span><span class="c n" style="right:12px">1</span></div>
<div class="abs row" style="top:1074px"><span class="c" style="left:9px">UK</span><span class="c n" style="right:332px">9</span><span class="c" style="left:330px"><b>World total</b></span><span class="c n" style="right:12px">60,400</span></div>
</div>
<div id="vdiv" class="abs"></div>
<div id="deaths" class="abs"><div style="top:4px"><span style="font-size:27.5px">D</span><span style="font-size:24.3px">EATHS</span>: Mainland China 1,367,</div><div style="top:34px">Hong Kong 1, Japan 1, Philippines 1</div></div>
<div class="abs ft" style="left:7px;top:1183px">*Includes 218 cases on cruise ship off Japanese coast</div>
<div class="abs ft" style="left:12.5px;top:1218px;font-size:25px">Sources: AP, DXY.cn</div>
<div class="abs ft" style="left:415px;top:1218px">© GRAPHIC NEWS</div>
<div id="botline" class="abs"></div>
</body></html>
